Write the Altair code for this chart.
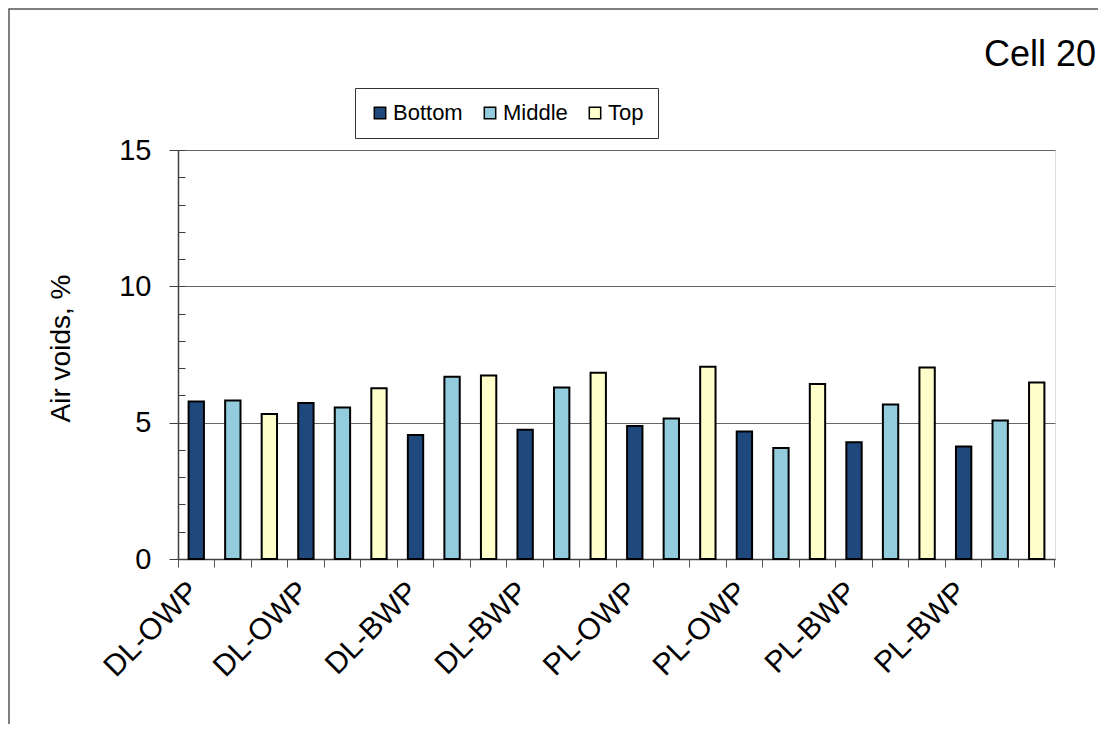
import json
import pandas as pd
import altair as alt

# ---- data ----
groups = ["DL-OWP", "DL-OWP", "DL-BWP", "DL-BWP", "PL-OWP", "PL-OWP", "PL-BWP", "PL-BWP"]
layers = ["Bottom", "Middle", "Top"]
bottom = [5.78, 5.72, 4.55, 4.74, 4.88, 4.68, 4.28, 4.13]
middle = [5.81, 5.56, 6.68, 6.29, 5.15, 4.07, 5.67, 5.08]
top = [5.32, 6.26, 6.73, 6.83, 7.05, 6.42, 7.02, 6.47]
colors = ["#1F497D", "#93CDDD", "#FFFFCC"]
y_ticks = [0, 5, 10, 15]
minor_ticks = list(range(0, 16))
chart_title = "Cell 20"

rows = []
for g, name in enumerate(groups):
    for k, (lay, vals) in enumerate(zip(layers, [bottom, middle, top])):
        rows.append({"slot": g * 3 + k, "group": name, "layer": lay, "value": vals[g]})
df = pd.DataFrame(rows)
last_slot = len(df) - 1

W, H = 877, 409
STEP = W / 24.0
FONT = "Liberation Sans"

label_expr = "datum.value % 3 == 0 ? " + json.dumps(groups) + "[floor(datum.value / 3)] : ''"

x_enc = alt.X(
    "slot:O",
    scale=alt.Scale(paddingInner=0, paddingOuter=0),
    axis=alt.Axis(
        title=None,
        bandPosition=0,
        labelExpr=label_expr,
        labelOffset=STEP / 2 - 31,
        labelAngle=-45,
        labelAlign="right",
        labelBaseline="top",
        labelPadding=9,
        labelFontSize=30,
        labelFont=FONT,
        labelColor="black",
        labelOverlap=False,
        tickSize=8,
        tickColor="#555555",
        domainColor="#404040",
        domainWidth=1.5,
        grid=False,
    ),
)

bars = alt.Chart(df).mark_bar(
    width=alt.RelativeBandSize(0.42), stroke="black", strokeWidth=2
).encode(
    x=x_enc,
    y=alt.Y(
        "value:Q",
        scale=alt.Scale(domain=[0, 15], nice=False),
        axis=alt.Axis(
            title="Air voids, %",
            titleFont=FONT,
            titleFontSize=28,
            titleFontWeight="normal",
            titleColor="black",
            titlePadding=43,
            titleY=198,
            values=y_ticks,
            labelFont=FONT,
            labelFontSize=29,
            labelColor="black",
            labelPadding=18,
            tickSize=9,
            tickColor="#404040",
            domainColor="#404040",
            domainWidth=1.5,
            grid=True,
            gridColor="#666666",
            gridWidth=1.2,
        ),
    ),
    color=alt.Color(
        "layer:N",
        scale=alt.Scale(domain=layers, range=colors),
        legend=alt.Legend(
            title=None,
            orient="none",
            legendX=177,
            legendY=-62,
            direction="horizontal",
            labelFont=FONT,
            labelFontSize=22,
            labelColor="black",
            labelOffset=2,
            symbolType="square",
            symbolSize=130,
            symbolStrokeColor="black",
            symbolStrokeWidth=1.5,
            columnPadding=16,
            padding=14,
            strokeColor="#333333",
            fillColor="white",
        ),
    ),
)

minor = alt.Chart(df).mark_point(opacity=0).encode(
    x=alt.X(
        "slot:O",
        axis=alt.Axis(
            orient="bottom",
            values=[last_slot],
            bandPosition=1,
            labels=False,
            domain=False,
            grid=False,
            title=None,
            tickSize=8,
            tickColor="#555555",
        ),
    ),
    y=alt.Y(
        "value:Q",
        scale=alt.Scale(domain=[0, 15], nice=False),
        axis=alt.Axis(
            orient="right",
            offset=-W,
            values=minor_ticks,
            labels=False,
            domain=False,
            grid=False,
            title=None,
            tickSize=7,
            tickColor="#404040",
        ),
    ),
)

frame = alt.Chart(pd.DataFrame({"k": [0]})).mark_rect(
    fill=None, stroke="#555555", strokeWidth=1.5
).encode(
    x=alt.value(-169),
    y=alt.value(-141),
    x2=alt.value(2000),
    y2=alt.value(2000),
)

title_text = alt.Chart(pd.DataFrame({"t": [chart_title]})).mark_text(
    align="right", baseline="alphabetic", font=FONT, fontSize=36, color="black"
).encode(
    text="t:N",
    x=alt.value(W + 41),
    y=alt.value(-84),
)

chart = (
    alt.layer(frame, bars, minor, title_text)
    .resolve_axis(x="independent", y="independent")
    .properties(
        width=W,
        height=H,
        autosize=alt.AutoSizeParams(type="none"),
        padding={"left": 170, "top": 142, "right": 43, "bottom": 165},
    )
    .configure_view(stroke="#888888", strokeWidth=1.5)
    .configure(background="white")
)

chart.save("out.html", embed_options={"renderer": "svg", "actions": False})
